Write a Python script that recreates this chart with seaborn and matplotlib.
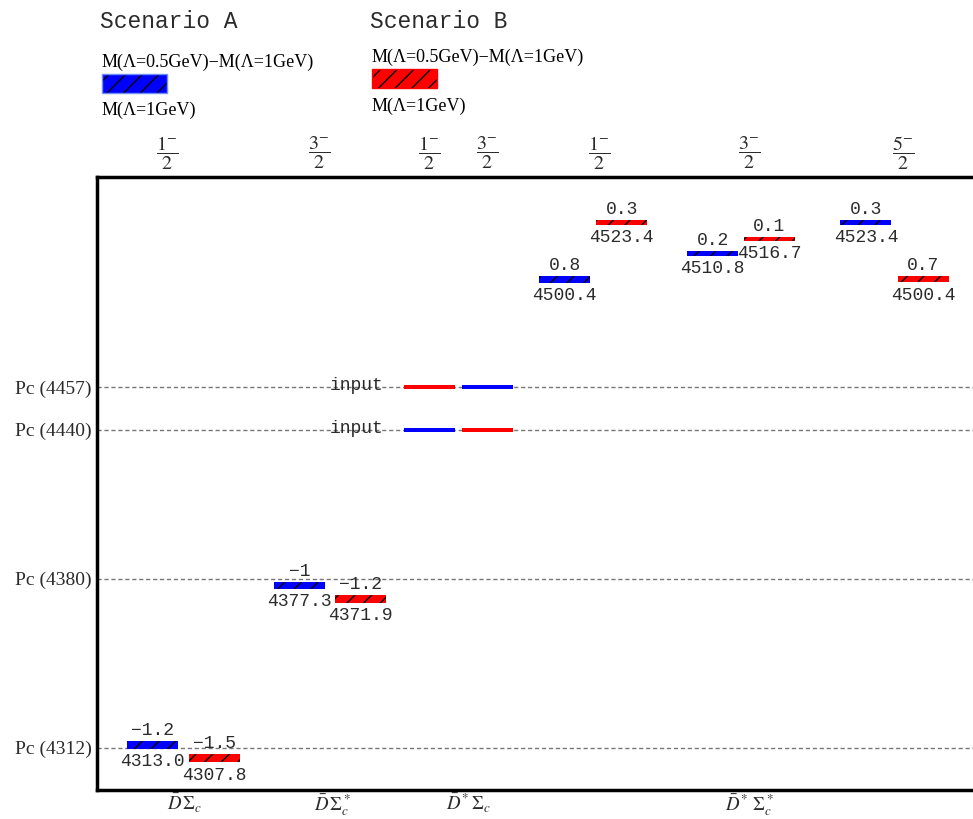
import matplotlib
matplotlib.use("Agg")
import matplotlib.pyplot as plt
import seaborn as sns
from matplotlib.patches import Rectangle
from matplotlib.transforms import blended_transform_factory

# -------------------- DATA --------------------
# reference states (MeV)
pc_levels = [4312, 4380, 4440, 4457]
pc_labels = ["Pc (4312)", "Pc (4380)", "Pc (4440)", "Pc (4457)"]

# Scenario A (blue) and Scenario B (red):
# M(Lambda=1GeV) and M(Lambda=0.5GeV) - M(Lambda=1GeV); None = input state
mass_a = [4313.0, 4377.3, 4440.0, 4457.0, 4500.4, 4510.8, 4523.4]
diff_a = [-1.2, -1.0, None, None, 0.8, 0.2, 0.3]
mass_b = [4307.8, 4371.9, 4457.0, 4440.0, 4523.4, 4516.7, 4500.4]
diff_b = [-1.5, -1.2, None, None, 0.3, 0.1, 0.7]

# horizontal slot of each state
slot_a = [0.0, 2.54, 4.78, 5.77, 7.11, 9.66, 12.30]
slot_b = [1.07, 3.59, 4.78, 5.77, 8.09, 10.63, 13.29]

jp_labels = [r"$\dfrac{1^{-}}{2}$", r"$\dfrac{3^{-}}{2}$", r"$\dfrac{1^{-}}{2}$",
             r"$\dfrac{3^{-}}{2}$", r"$\dfrac{1^{-}}{2}$", r"$\dfrac{3^{-}}{2}$",
             r"$\dfrac{5^{-}}{2}$"]
jp_slots = [0.25, 2.88, 4.78, 5.77, 7.70, 10.30, 12.95]

channels = [r"$\bar{D}\,\Sigma_c$", r"$\bar{D}\,\Sigma_c^*$",
            r"$\bar{D}^*\Sigma_c$", r"$\bar{D}^*\,\Sigma_c^*$"]
channel_slots = [0.55, 3.1, 5.45, 10.3]

# -------------------- STYLE --------------------
sns.set_theme(style="white")
plt.rcParams["font.family"] = ["Liberation Serif", "DejaVu Serif"]
plt.rcParams["mathtext.fontset"] = "stix"
plt.rcParams["hatch.linewidth"] = 1.0

MONO = ["Liberation Mono", "DejaVu Sans Mono"]
TXT = "#2b2b2b"
BLUE = "#0000ff"
RED = "#ff0000"
W = 0.88

fig = plt.figure(figsize=(9.73, 8.19), dpi=100)
ax = fig.add_axes([97 / 973, 1 - 790 / 819, 1 - 97 / 973, (790 - 177) / 819])
ax.set_xlim(-0.957, 14.147)
ax.set_ylim(4295.0, 4541.6)

# reference lines
for lv in pc_levels:
    ax.axhline(lv, color="#777777", ls=(0, (3, 2)), lw=1.0, zorder=0)


def draw_states(masses, diffs, slots, color):
    for m, d, x in zip(masses, diffs, slots):
        if d is None:
            ax.bar(x, 1.6, bottom=m - 0.8, width=W, color=color, lw=0, zorder=3)
            continue
        h = 1.6 + 1.2 * abs(d)
        ax.bar(x, h, bottom=m - h / 2, width=W, color=color, edgecolor="black",
               hatch="//", lw=0, zorder=3)
        ax.annotate(f"{d:g}".replace("-", "\u2212"), (x, m + h / 2),
                    xytext=(0, 1.5), textcoords="offset points", ha="center",
                    va="bottom", fontsize=13, family=MONO, color=TXT, zorder=4)
        ax.annotate(f"{m:.1f}", (x, m - h / 2), xytext=(0, -3),
                    textcoords="offset points", ha="center", va="top",
                    fontsize=13, family=MONO, color=TXT, zorder=4)


draw_states(mass_a, diff_a, slot_a, BLUE)
draw_states(mass_b, diff_b, slot_b, RED)

# "input" markers
for lv in [4457, 4440]:
    ax.text(slot_a[2] - W / 2 - 0.35, lv + 0.6, "input", ha="right", va="center",
            fontsize=13, family=MONO, color=TXT, zorder=4)

# axes
ax.set_yticks(pc_levels)
ax.set_yticklabels(pc_labels, fontsize=14, color=TXT)
ax.tick_params(axis="y", length=0, pad=4)
ax.set_xticks([])
for side in ["left", "top", "bottom"]:
    ax.spines[side].set_color("black")
    ax.spines[side].set_linewidth(2.5)
ax.spines["right"].set_visible(False)

# J^P labels on top, channels below
tr = blended_transform_factory(ax.transData, fig.transFigure)
for lab, x in zip(jp_labels, jp_slots):
    ax.text(x, 1 - 153 / 819, lab, transform=tr, ha="center", va="center",
            fontsize=14.5, color=TXT)
for lab, x in zip(channels, channel_slots):
    ax.text(x, 1 - 792 / 819, lab, transform=tr, ha="center", va="top",
            fontsize=13.5, color=TXT)

# legend
fig.text(100 / 973, 1 - 22 / 819, "Scenario A", fontsize=16.5, family=MONO,
         va="center", color=TXT)
fig.text(370 / 973, 1 - 22 / 819, "Scenario B", fontsize=16.5, family=MONO,
         va="center", color=TXT)
legend_items = [(102, 62, 74, 110, BLUE, "#6f8fff"), (372, 57, 69, 106, RED, RED)]
for x0, ytop, yrect, ybot, col, edge in legend_items:
    fig.text(x0 / 973, 1 - ytop / 819, "M(\u039b=0.5GeV)\u2212M(\u039b=1GeV)",
             fontsize=13, va="center", color="black")
    fig.patches.append(Rectangle((x0 / 973, 1 - (yrect + 19) / 819), 65 / 973,
                                 19 / 819, transform=fig.transFigure,
                                 facecolor=col, edgecolor="black", hatch="//",
                                 lw=0, zorder=3))
    fig.patches.append(Rectangle((x0 / 973, 1 - (yrect + 19) / 819), 65 / 973,
                                 19 / 819, transform=fig.transFigure,
                                 facecolor="none", edgecolor=edge, lw=1,
                                 zorder=4))
    fig.text(x0 / 973, 1 - ybot / 819, "M(\u039b=1GeV)", fontsize=13,
             va="center", color="black")

fig.savefig("out.png", dpi=100)
